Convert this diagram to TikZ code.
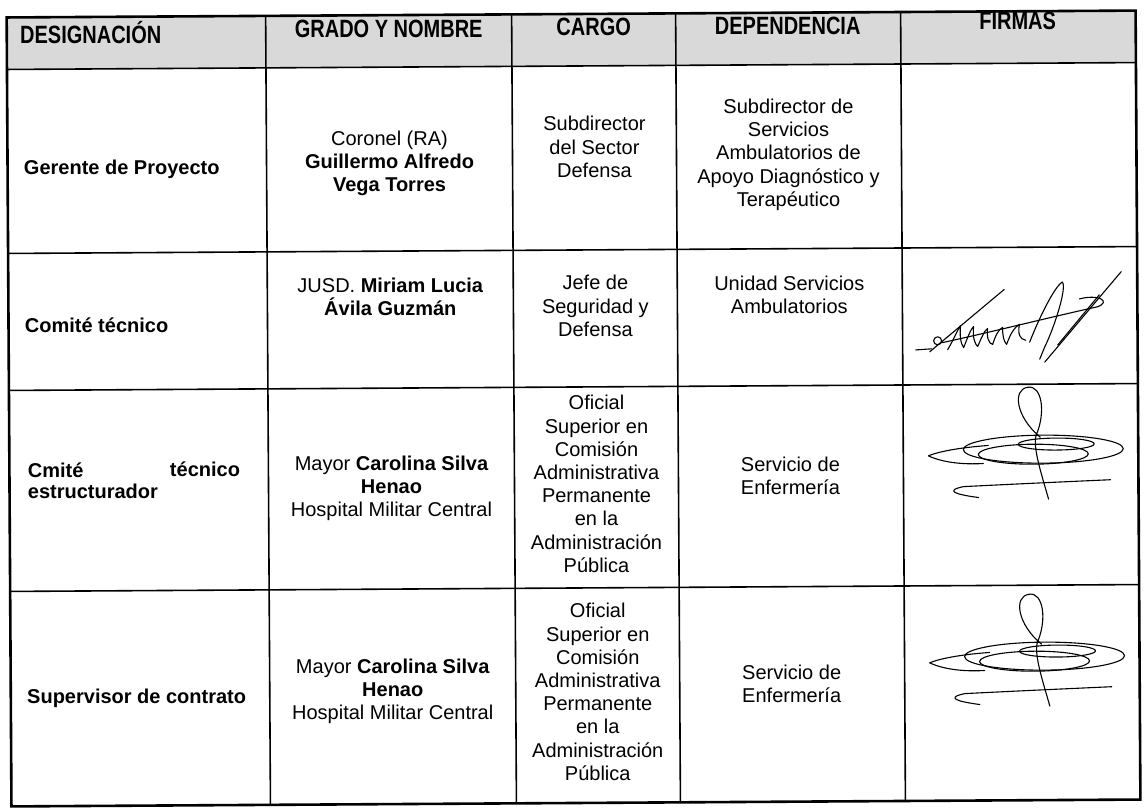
\documentclass[tikz,border=0pt]{standalone}
\usepackage{fontspec}
\setmainfont{Liberation Sans}
\newfontfamily\hdrfont{Liberation Sans}[FakeStretch=0.8]
\newcommand\cellfont{\fontsize{10}{11.6}\selectfont}
\newcommand\hdrsize{\hdrfont\bfseries\fontsize{12.5}{14}\selectfont}
\newcommand\sigcarolina{%
  \draw[sig] (12,50) .. controls (-12,30) and (-16,2) .. (0,0)
             .. controls (14,-2) and (18,25) .. (8,48)
             .. controls (4,60) and (14,90) .. (20,112);
  \draw[sig] (15,62) ellipse [x radius=80, y radius=14];
  \draw[sig] (5,67) ellipse [x radius=55, y radius=10];
  \draw[sig] (28,57) ellipse [x radius=38, y radius=6];
  \draw[sig] (-40,58) .. controls (-70,60) and (-90,64) .. (-100,68)
             .. controls (-85,75) and (-65,77) .. (-45,76);
  \draw[sig] (-50,110) .. controls (-72,107) and (-85,103) .. (-65,99)
             .. controls (-20,97) and (30,95) .. (82,93);
}
\begin{document}
\begin{tikzpicture}[x=0.5pt,y=-0.5pt,
  hdr/.style={font=\hdrsize, inner sep=0pt},
  cell/.style={font=\cellfont, align=center, inner sep=0pt},
  lcell/.style={font=\cellfont\bfseries, inner sep=0pt, anchor=west},
  gridline/.style={line width=0.8pt},
  outerline/.style={line width=1.3pt},
  sig/.style={line width=0.55pt, line join=round, line cap=round}]
\useasboundingbox (0,0) rectangle (1144,809);
\fill[white] (0,0) rectangle (1144,809);
\begin{scope}[rotate around={0.35:(573,405)}]
  % header fill
  \fill[gray!30] (9,14) rectangle (1138,66);
  % grid
  \foreach \yy in {66,250,387,588} \draw[gridline] (9,\yy) -- (1138,\yy);
  \foreach \xx in {268,514,678,903} \draw[gridline] (\xx,14) -- (\xx,803);
  \draw[outerline] (9,14) rectangle (1138,803);
  % header
  \node[hdr, anchor=west] (h1) at (22,29) {DESIGNACIÓN};
  \node[hdr] (h2) at (391,28) {GRADO Y NOMBRE};
  \node[hdr] (h3) at (596,27) {CARGO};
  \node[hdr] (h4) at (790,27) {DEPENDENCIA};
  \node[hdr] (h5) at (1020,24) {FIRMAS};
  % row 1
  \node[lcell] (r1c1) at (25,166) {Gerente de Proyecto};
  \node[cell] (r1c2) at (391,162) {Coronel (RA)\\\textbf{Guillermo Alfredo}\\\textbf{Vega Torres}};
  \node[cell] (r1c3) at (596,147) {Subdirector\\del Sector\\Defensa};
  \node[cell] (r1c4) at (790,156) {Subdirector de\\Servicios\\Ambulatorios de\\Apoyo Diagnóstico y\\Terapéutico};
  % row 2
  \node[lcell] (r2c1) at (25,322) {Comité técnico};
  \node[cell] (r2c2) at (391,296) {JUSD. \textbf{Miriam Lucia}\\\textbf{Ávila Guzmán}};
  \node[cell] (r2c3) at (596,306) {Jefe de\\Seguridad y\\Defensa};
  \node[cell] (r2c4) at (790,296) {Unidad Servicios\\Ambulatorios};
  % signature 1
  \draw[sig] (916,352) -- (932,351);
  \draw[sig] (938,343) circle [radius=4];
  \draw[sig] (942,345) .. controls (990,335) and (1060,318) .. (1098,310)
             .. controls (1112,305) and (1100,297) .. (1080,302);
  \draw[sig] (930,354) -- (1005,292);
  \draw[sig] (948,352) .. controls (955,340) and (958,332) .. (961,328)
             .. controls (960,338) and (961,346) .. (964,350)
             .. controls (968,340) and (971,332) .. (974,329)
             .. controls (973,340) and (975,346) .. (978,349)
             .. controls (982,340) and (985,333) .. (988,331)
             .. controls (987,340) and (989,346) .. (993,347)
             .. controls (996,338) and (999,332) .. (1003,330)
             .. controls (1003,338) and (1004,344) .. (1007,347)
             .. controls (1011,336) and (1015,330) .. (1020,327)
             .. controls (1018,336) and (1020,342) .. (1026,343);
  \draw[sig] (1030,345) .. controls (1040,320) and (1055,290) .. (1063,285)
             .. controls (1068,290) and (1055,330) .. (1045,350) -- (1040,362);
  \draw[sig] (1045,365) -- (1122,275);
  \draw[sig] (1058,348) -- (1100,298);
  % row 3
  \node[lcell] (r3c1a) at (27,467) {Cmité};
  \node[lcell, anchor=east] (r3c1b) at (240,467) {técnico};
  \node[lcell] (r3c1c) at (27,488) {estructurador};
  \node[cell] (r3c2) at (391,487) {Mayor \textbf{Carolina Silva}\\\textbf{Henao}\\Hospital Militar Central};
  \node[cell] (r3c3) at (596,484) {Oficial\\Superior en\\Comisión\\Administrativa\\Permanente\\en la\\Administración\\Pública};
  \node[cell] (r3c4) at (790,477) {Servicio de\\Enfermería};
  \begin{scope}[shift={(1028,390)}]\sigcarolina\end{scope}
  % row 4
  \node[lcell] (r4c1) at (25,695) {Supervisor de contrato};
  \node[cell] (r4c2) at (391,690) {Mayor \textbf{Carolina Silva}\\\textbf{Henao}\\Hospital Militar Central};
  \node[cell] (r4c3) at (596,692) {Oficial\\Superior en\\Comisión\\Administrativa\\Permanente\\en la\\Administración\\Pública};
  \node[cell] (r4c4) at (790,685) {Servicio de\\Enfermería};
  \begin{scope}[shift={(1028,597)}]\sigcarolina\end{scope}
\end{scope}
\end{tikzpicture}
\end{document}
